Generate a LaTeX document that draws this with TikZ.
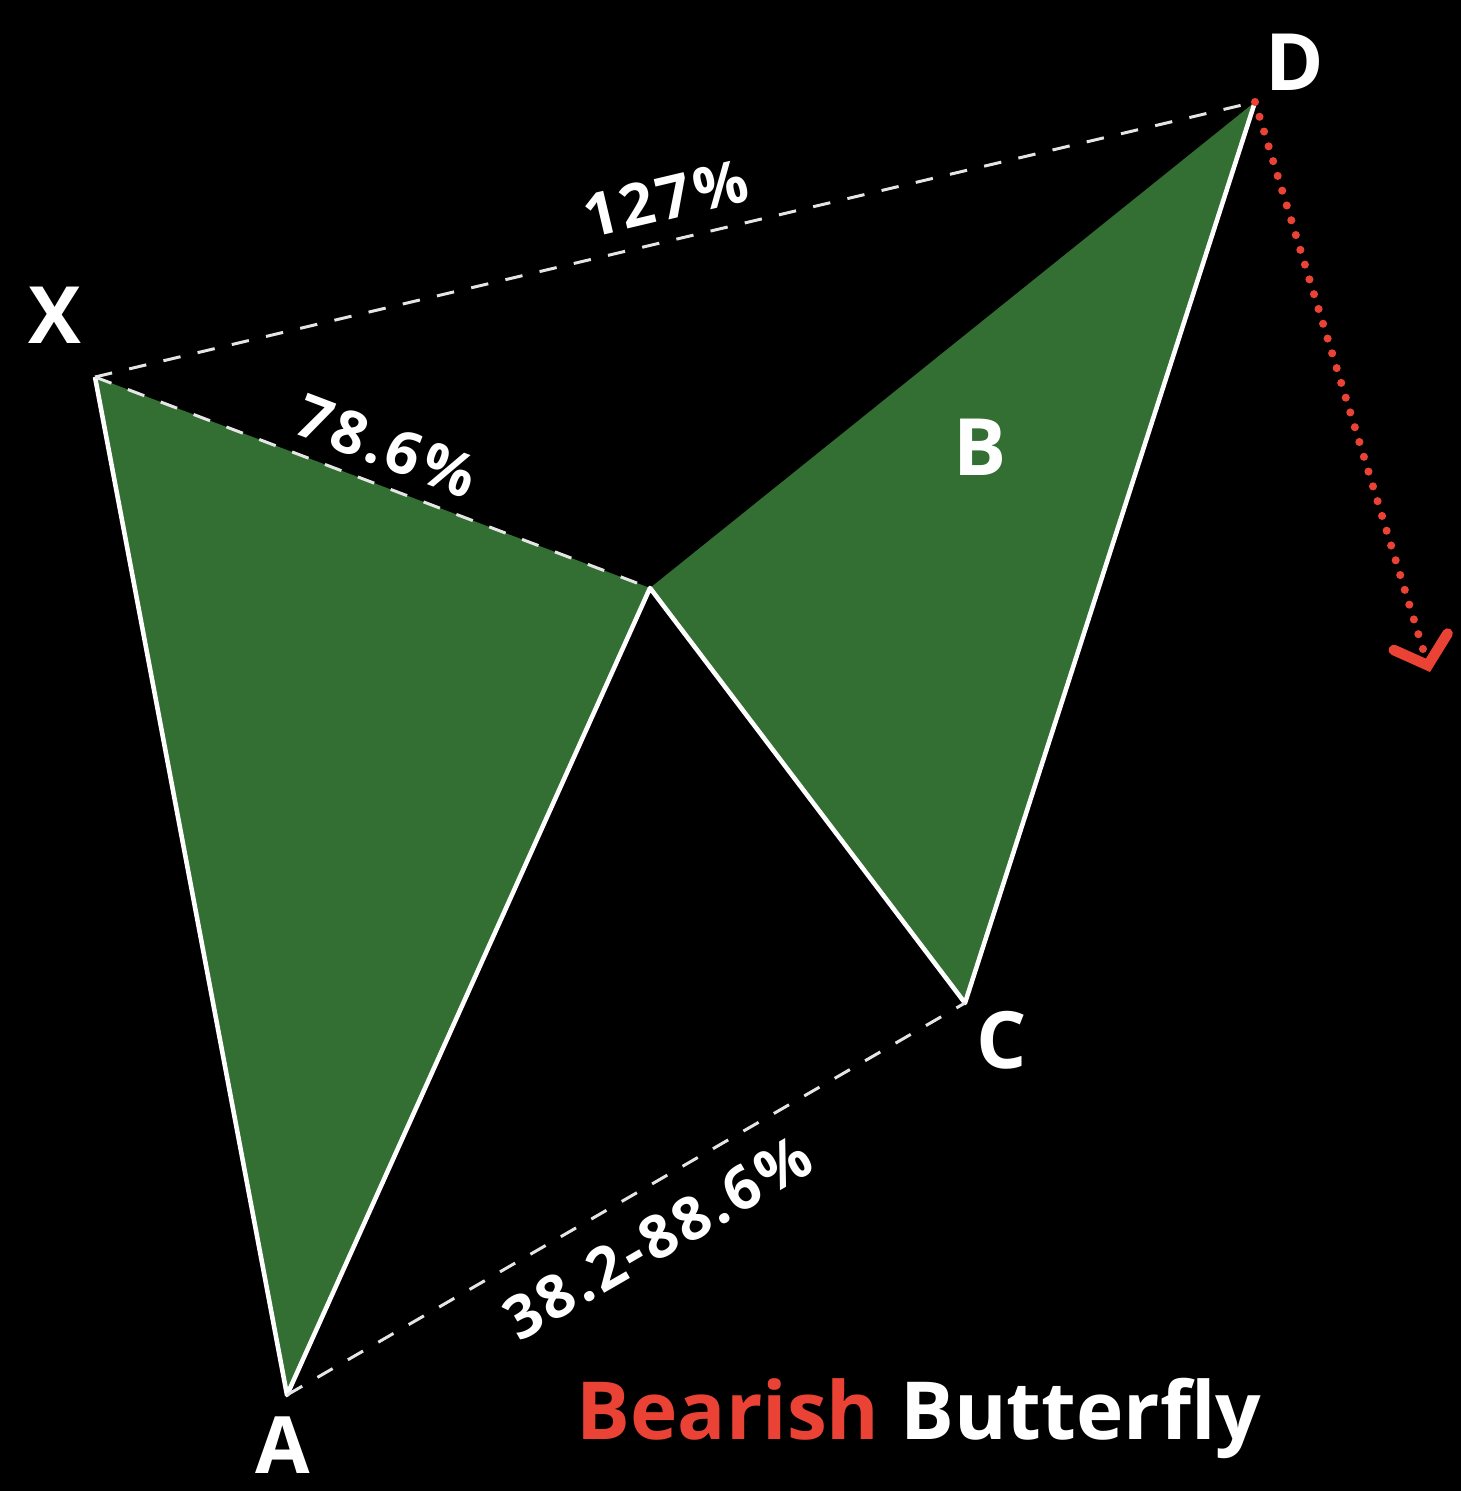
\documentclass[tikz,border=0pt]{standalone}
\usepackage{fontspec}
\setmainfont{Open Sans}
\usetikzlibrary{arrows.meta}
\definecolor{greenc}{RGB}{51,110,51}
\definecolor{redc}{RGB}{234,67,53}

\tikzset{
  leg/.style={white, line width=1.3pt, line join=round},
  ratioline/.style={white!90!black, line width=0.85pt, dash pattern=on 5pt off 5pt},
  ptlabel/.style={white, font=\fontsize{22.5}{27}\selectfont\bfseries},
  ratio/.style={white, font=\fontsize{17}{21}\selectfont\bfseries\addfontfeature{LetterSpace=6}, sloped}
}

\begin{document}
\begin{tikzpicture}
  \fill[black] (0,0) rectangle (14.61,14.91);
  % pivot points
  \coordinate (X) at (0.95,11.14);
  \coordinate (A) at (2.87,0.96);
  \coordinate (B) at (6.50,9.03);
  \coordinate (C) at (9.65,4.88);
  \coordinate (D) at (12.55,13.89);
  \coordinate (T) at (14.30,8.19);
  % wings
  \fill[greenc] (X) -- (A) -- (B) -- cycle;
  \fill[greenc] (B) -- (C) -- (D) -- cycle;
  \draw[leg] (X) -- (A) -- (B) -- (C) -- (D);
  % ratios
  \draw[ratioline] (X) -- (D) node[ratio, pos=0.50, above=2pt] {127\%};
  \draw[ratioline] (X) -- (B) node[ratio, pos=0.50, above=1pt] {78.6\%};
  \draw[ratioline] (A) -- (C) node[ratio, pos=0.51, below=4pt] {38.2-88.6\%};
  % expected move
  \draw[redc, line width=2.3pt, line cap=round, dash pattern=on 0pt off 4.4pt,
    -{Straight Barb[length=7pt, width=16pt, line width=3pt, line cap=round]}] (D) -- (T);
  \node[ptlabel] (xl) at (0.55,11.76) {X};
  \node[ptlabel] (al) at (2.83,0.46) {A};
  \node[ptlabel] (bl) at (9.80,10.44) {B};
  \node[ptlabel] (cl) at (10.02,4.51) {C};
  \node[ptlabel] (dl) at (12.95,14.29) {D};
  \node[ptlabel, anchor=base, font=\fontsize{22.8}{27}\selectfont\bfseries] (title)
    at (9.19,0.51) {\textcolor{redc}{Bearish} Butterfly};
\end{tikzpicture}
\end{document}
